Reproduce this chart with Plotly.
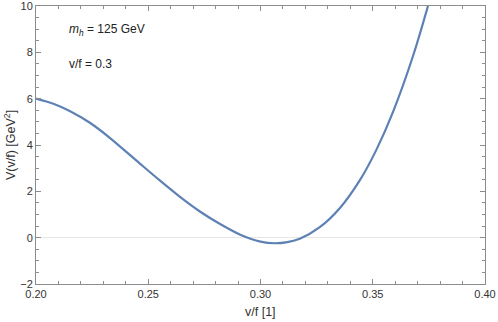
import plotly.graph_objects as go

# data
vf = [0.200, 0.208, 0.215, 0.224, 0.233, 0.246, 0.255, 0.264, 0.273, 0.282,
      0.291, 0.300, 0.3064, 0.312, 0.3175, 0.3264, 0.3353, 0.3442, 0.3516,
      0.3590, 0.3679, 0.3746, 0.378]
V = [6.00, 5.77, 5.47, 4.96, 4.30, 3.22, 2.48, 1.77, 1.13, 0.59,
     0.13, -0.17, -0.24, -0.19, -0.05, 0.45, 1.27, 2.47, 3.79,
     5.42, 7.83, 10.0, 11.2]

x_ticks = [0.20, 0.25, 0.30, 0.35, 0.40]
x_ticklabels = ["0.20", "0.25", "0.30", "0.35", "0.40"]
y_ticks = [-2, 0, 2, 4, 6, 8, 10]
y_ticklabels = ["\u22122", "0", "2", "4", "6", "8", "10"]

FAM = "Liberation Sans, Arial, sans-serif"

fig = go.Figure()
fig.add_trace(go.Scatter(x=vf, y=V, mode="lines",
                         line=dict(color="#5E81B5", width=2.2, shape="spline", smoothing=0.8),
                         showlegend=False, hoverinfo="skip"))

font = dict(family=FAM, size=11, color="#333333")
axis_common = dict(showgrid=False, showline=True, linecolor="#8c8c8c", linewidth=1,
                   mirror="allticks", ticks="inside", ticklen=5, tickcolor="#8c8c8c",
                   tickfont=font, automargin=False, ticklabeloverflow="allow")

fig.update_xaxes(range=[0.2, 0.4], tickvals=x_ticks, ticktext=x_ticklabels,
                 zeroline=False,
                 minor=dict(dtick=0.01, tick0=0.2, ticks="inside", ticklen=3, tickcolor="#8c8c8c"),
                 **axis_common)
fig.update_yaxes(range=[-2, 10], tickvals=y_ticks, ticktext=y_ticklabels,
                 zeroline=True, zerolinecolor="#e6e6e6", zerolinewidth=1,
                 minor=dict(dtick=0.5, tick0=0, ticks="inside", ticklen=3, tickcolor="#8c8c8c"),
                 **axis_common)

L, R, T, B = 36, 12.5, 6, 38
W, H = 498, 322
pw, ph = W - L - R, H - T - B

def px(x):
    return (x - L) / pw

def py(y):
    return 1 - (y - T) / ph

afont = dict(family=FAM, size=12, color="#222222")
fig.add_annotation(x=px(67), y=py(30), xref="paper", yref="paper",
                   text="<i>m<sub>h</sub></i> = 125 GeV",
                   showarrow=False, xanchor="left", yanchor="middle", font=afont)
fig.add_annotation(x=px(67), y=py(64), xref="paper", yref="paper", text="v/f = 0.3",
                   showarrow=False, xanchor="left", yanchor="middle", font=afont)
# axis titles
tfont = dict(family=FAM, size=12.5, color="#333333")
fig.add_annotation(x=px(261), y=py(312), xref="paper", yref="paper", text="v/f [1]",
                   showarrow=False, xanchor="center", yanchor="middle", font=tfont)
fig.add_annotation(x=px(10), y=py(145), xref="paper", yref="paper",
                   text="V(v/f) [GeV<sup>2</sup>]", textangle=-90,
                   showarrow=False, xanchor="center", yanchor="middle", font=tfont)

fig.update_layout(width=W, height=H, margin=dict(l=L, r=R, t=T, b=B, autoexpand=False),
                  plot_bgcolor="white", paper_bgcolor="white")

fig.write_html("out.html", config={"displayModeBar": False},
               post_script="document.body.style.margin='0';document.body.style.padding='0';")
